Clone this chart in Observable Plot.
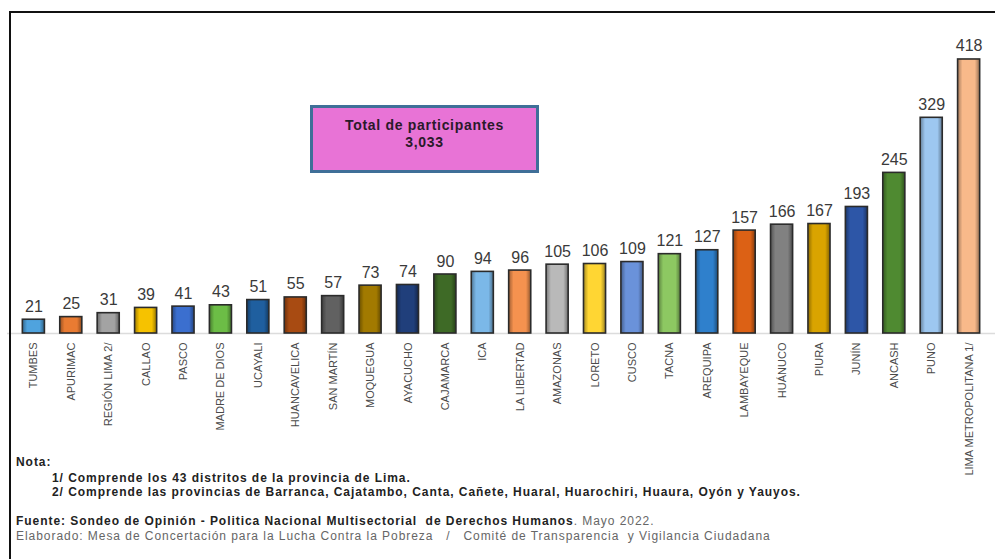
<!DOCTYPE html>
<html>
<head>
<meta charset="utf-8">
<script src="https://cdn.jsdelivr.net/npm/d3@7"></script>
<script src="https://cdn.jsdelivr.net/npm/@observablehq/plot@0.6"></script>
<style>
  html, body { margin: 0; padding: 0; background: #fff; }
  #wrap { position: relative; width: 995px; height: 559px; overflow: hidden; font-family: "Liberation Sans", Arial, sans-serif; }
  #frameTop { position: absolute; left: 9px; top: 11px; width: 986px; height: 0; border-top: 2px solid #111; }
  #frameLeft { position: absolute; left: 9px; top: 11px; width: 0; height: 548px; border-left: 2px solid #111; }
  #chart { position: absolute; left: 0; top: 0; }
  #box { position: absolute; left: 310px; top: 105px; width: 223px; height: 62px; background: #E873D6; border: 3px solid #3F6F98; box-sizing: content-box;
         display: flex; flex-direction: column; justify-content: center; align-items: center; font-weight: bold; font-size: 14px; letter-spacing: 0.7px; color: #2a1a2a; line-height: 17px; padding-bottom: 0; }
  #box div:first-child { margin-top: -10px; }
  .note { position: absolute; font-size: 12px; letter-spacing: 0.95px; color: #222; white-space: pre; }
  .b { font-weight: bold; }
  .g { color: #666; }
</style>
</head>
<body>
<div id="wrap">
  <div id="chart"></div>
  <div id="frameTop"></div>
  <div id="frameLeft"></div>
  <div id="box"><div>Total de participantes</div><div>3,033</div></div>
  <div class="note b" style="left:16px; top:455px;">Nota:</div>
  <div class="note b" style="left:52px; top:471px;">1/ Comprende los 43 distritos de la provincia de Lima.</div>
  <div class="note b" style="left:52px; top:485px;">2/ Comprende las provincias de Barranca, Cajatambo, Canta, Cañete, Huaral, Huarochiri, Huaura, Oyón y Yauyos.</div>
  <div class="note" style="left:16px; top:514px;"><span class="b">Fuente: Sondeo de Opinión - Politica Nacional Multisectorial  de Derechos Humanos</span><span class="g">. Mayo 2022.</span></div>
  <div class="note g" style="left:16px; top:529px;">Elaborado: Mesa de Concertación para la Lucha Contra la Pobreza   /   Comité de Transparencia  y Vigilancia Ciudadana</div>
</div>
<script>
const regions = ["TUMBES","APURIMAC","REGIÓN LIMA 2/","CALLAO","PASCO","MADRE DE DIOS","UCAYALI","HUANCAVELICA","SAN MARTÍN","MOQUEGUA","AYACUCHO","CAJAMARCA","ICA","LA LIBERTAD","AMAZONAS","LORETO","CUSCO","TACNA","AREQUIPA","LAMBAYEQUE","HUÁNUCO","PIURA","JUNÍN","ANCASH","PUNO","LIMA METROPOLITANA 1/"];
const participants = [21,25,31,39,41,43,51,55,57,73,74,90,94,96,105,106,109,121,127,157,166,167,193,245,329,418];
const barColors = ["#4FA3DE","#E97B32","#A3A3A3","#F6C200","#3B6FCF","#6CBD46","#1F5F9F","#A84B12","#616161","#A27A00","#203F7B","#3E6A26","#7BB8E8","#F5924F","#B9B9B9","#FFD633","#6A92DA","#8DC862","#2F80CC","#DC6115","#818181","#D9A400","#2D56A7","#4F8A31","#9DC7F0","#F8B98A"];

const data = regions.map((r, i) => ({region: r, value: participants[i]}));

const shadeDefs = () => {
  const svg = d3.create("svg:defs");
  const g = svg.append("linearGradient").attr("id", "barShade").attr("x1", "0").attr("x2", "1").attr("y1", "0").attr("y2", "0");
  g.append("stop").attr("offset", "0").attr("stop-color", "#000").attr("stop-opacity", 0.35);
  g.append("stop").attr("offset", "0.22").attr("stop-color", "#000").attr("stop-opacity", 0);
  g.append("stop").attr("offset", "0.78").attr("stop-color", "#000").attr("stop-opacity", 0);
  g.append("stop").attr("offset", "1").attr("stop-color", "#000").attr("stop-opacity", 0.4);
  return svg.node();
};

const chart = Plot.plot({
  width: 995,
  height: 559,
  marginLeft: 7,
  marginRight: 0,
  marginTop: 38,
  marginBottom: 226,
  style: {fontFamily: "'Liberation Sans', Arial, sans-serif", background: "transparent"},
  x: {domain: regions, padding: 0.41, round: false, label: null},
  y: {domain: [0, 450], axis: null},
  color: {domain: regions, range: barColors},
  marks: [
    shadeDefs,
    Plot.ruleY([0], {stroke: "#dcdcdc", strokeWidth: 1.5}),
    Plot.barY(data, {x: "region", y: "value", fill: "region"}),
    Plot.barY(data, {x: "region", y: "value", fill: "url(#barShade)", stroke: "#2b2b2b", strokeWidth: 1.6}),
    Plot.text(data, {x: "region", y: "value", text: d => String(d.value), lineAnchor: "bottom", dy: -8, fontSize: 16, fill: "#3a3a3a"}),
    Plot.axisX({tickRotate: -90, tickSize: 0, tickPadding: 9, fontSize: 11, fill: "#4a4a4a", label: null})
  ]
});
document.getElementById("chart").appendChild(chart);
</script>
</body>
</html>
